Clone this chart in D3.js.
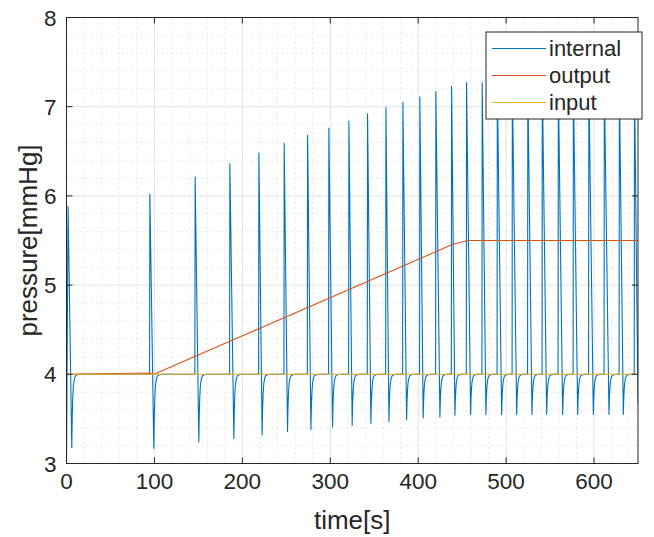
<!DOCTYPE html>
<html>
<head>
<meta charset="utf-8">
<script src="https://cdn.jsdelivr.net/npm/d3@7"></script>
<style>
  body { margin: 0; background: #fff; }
  text { font-family: "Liberation Sans", Arial, sans-serif; fill: #262626; }
</style>
</head>
<body>
<div id="chart"></div>
<script>
// pump cycles: pressure jumps up to a peak, falls to a dip, then recovers to 4
const upTimes = [1.8, 94.8, 146.3, 185.8, 218.8, 247.6, 274.2, 298.4, 321.2, 342.4, 363.3, 382.6, 401.9,
  420.1, 438, 455, 472.8, 490, 507.1, 524.7, 541.2, 559.4, 576.5, 594.1, 611.7, 628.8, 646];
const peakValues = [5.88, 6.02, 6.21, 6.36, 6.48, 6.59, 6.68, 6.76, 6.84, 6.92, 6.99, 7.05, 7.11,
  7.17, 7.23, 7.27, 7.27, 7.28, 7.28, 7.28, 7.28, 7.28, 7.28, 7.28, 7.28, 7.28, 7.28];
const dipTimes = [6.0, 99.3, 150.5, 190.3, 222.5, 251.4, 278, 302.6, 324.9, 346.2, 366.7, 386.8, 405.7,
  424.7, 441.8, 459.6, 477, 494.9, 512, 529.4, 546.1, 564.3, 581.4, 599.2, 617, 633.3, 650];
const dipValues = [3.18, 3.17, 3.24, 3.28, 3.32, 3.36, 3.38, 3.41, 3.43, 3.45, 3.47, 3.49, 3.51,
  3.52, 3.54, 3.55, 3.55, 3.55, 3.55, 3.55, 3.55, 3.55, 3.55, 3.55, 3.55, 3.55, 3.67];
// recovery after each dip: seconds after dip / part of dip still left
const recoveryOffsets = [0, 0.5, 1, 1.5, 2, 3, 4, 5.5, 7.5, 10];
const recoveryLeft = [1, 0.6, 0.37, 0.23, 0.14, 0.06, 0.025, 0.01, 0.003, 0];

const outputTimes = [0, 95, 99.5, 440, 457, 650];
const outputValues = [4.0, 4.015, 4.0, 5.46, 5.5, 5.5];
const inputTimes = [0, 650];
const inputValues = [4.0, 4.0];

const xTicks = [0, 100, 200, 300, 400, 500, 600];
const yTicks = [3, 4, 5, 6, 7, 8];
const seriesNames = ["internal", "output", "input"];
const seriesColors = ["#0072BD", "#D95319", "#EDB120"];

const W = 654, H = 537;
const margin = { top: 17.5, right: 16, bottom: 73.5, left: 66.5 };
const pw = W - margin.left - margin.right;
const ph = H - margin.top - margin.bottom;

const x = d3.scaleLinear().domain([0, 650]).range([0, pw]);
const y = d3.scaleLinear().domain([3, 8]).range([ph, 0]);

// internal pressure trace
const internal = [[0, 3.0]];
upTimes.forEach((t, i) => {
  if (i > 0) internal.push([t - 0.3, 4.0]);
  internal.push([t, peakValues[i]]);
  internal.push([dipTimes[i], dipValues[i]]);
  if (i < upTimes.length - 1) {
    recoveryOffsets.forEach((o, j) => {
      if (j === 0) return;
      internal.push([dipTimes[i] + o, 4 - (4 - dipValues[i]) * recoveryLeft[j]]);
    });
  }
});
const output = outputTimes.map((t, i) => [t, outputValues[i]]);
const input = inputTimes.map((t, i) => [t, inputValues[i]]);

const svg = d3.select("#chart").append("svg")
  .attr("width", W).attr("height", H);

const g = svg.append("g")
  .attr("transform", `translate(${margin.left},${margin.top})`);

svg.append("defs").append("clipPath").attr("id", "clip")
  .append("rect").attr("width", pw).attr("height", ph);

// minor grid
const minorX = d3.range(20, 650, 20).filter(v => v % 100 !== 0);
const minorY = d3.range(3.2, 8, 0.2).filter(v => Math.abs(v - Math.round(v)) > 0.01);
g.selectAll(".minor-x").data(minorX).join("line")
  .attr("x1", d => x(d)).attr("x2", d => x(d)).attr("y1", 0).attr("y2", ph)
  .attr("stroke", "#cfcfcf").attr("stroke-width", 1).attr("stroke-dasharray", "1,4");
g.selectAll(".minor-y").data(minorY).join("line")
  .attr("x1", 0).attr("x2", pw).attr("y1", d => y(d)).attr("y2", d => y(d))
  .attr("stroke", "#cfcfcf").attr("stroke-width", 1).attr("stroke-dasharray", "1,4");

// major grid
g.selectAll(".major-x").data(xTicks.concat([])).join("line")
  .attr("x1", d => x(d)).attr("x2", d => x(d)).attr("y1", 0).attr("y2", ph)
  .attr("stroke", "#e3e3e3").attr("stroke-width", 1);
g.selectAll(".major-y").data(yTicks).join("line")
  .attr("x1", 0).attr("x2", pw).attr("y1", d => y(d)).attr("y2", d => y(d))
  .attr("stroke", "#e3e3e3").attr("stroke-width", 1);

// data lines
const line = d3.line().x(d => x(d[0])).y(d => y(d[1]));
const plot = g.append("g").attr("clip-path", "url(#clip)");
[internal, output, input].forEach((data, i) => {
  plot.append("path")
    .datum(data)
    .attr("d", line)
    .attr("fill", "none")
    .attr("stroke", seriesColors[i])
    .attr("stroke-width", 1.1)
    .attr("stroke-linejoin", "round");
});

// axes box and ticks
const axisColor = "#262626";
g.append("rect")
  .attr("width", pw).attr("height", ph)
  .attr("fill", "none").attr("stroke", axisColor).attr("stroke-width", 1);

const tickLen = 6;
xTicks.forEach(v => {
  g.append("line").attr("x1", x(v)).attr("x2", x(v)).attr("y1", ph).attr("y2", ph - tickLen)
    .attr("stroke", axisColor);
  g.append("line").attr("x1", x(v)).attr("x2", x(v)).attr("y1", 0).attr("y2", tickLen)
    .attr("stroke", axisColor);
  g.append("text")
    .attr("x", x(v)).attr("y", ph + 25)
    .attr("text-anchor", "middle")
    .style("font-size", "22.5px")
    .text(v);
});
yTicks.forEach(v => {
  g.append("line").attr("x1", 0).attr("x2", tickLen).attr("y1", y(v)).attr("y2", y(v))
    .attr("stroke", axisColor);
  g.append("line").attr("x1", pw).attr("x2", pw - tickLen).attr("y1", y(v)).attr("y2", y(v))
    .attr("stroke", axisColor);
  g.append("text")
    .attr("x", -10).attr("y", y(v))
    .attr("dy", "0.36em")
    .attr("text-anchor", "end")
    .style("font-size", "22.5px")
    .text(v);
});

// axis labels
g.append("text")
  .attr("x", pw / 2).attr("y", ph + 65)
  .attr("text-anchor", "middle")
  .style("font-size", "26px")
  .text("time[s]");
g.append("text")
  .attr("transform", `translate(${-30},${ph / 2}) rotate(-90)`)
  .attr("text-anchor", "middle")
  .style("font-size", "26px")
  .text("pressure[mmHg]");

// legend
const lg = svg.append("g").attr("transform", "translate(486,32)");
lg.append("rect")
  .attr("width", 156).attr("height", 87)
  .attr("fill", "#fff").attr("stroke", axisColor).attr("stroke-width", 1);
seriesNames.forEach((name, i) => {
  const ly = 16.5 + i * 27;
  lg.append("line")
    .attr("x1", 6).attr("x2", 60).attr("y1", ly).attr("y2", ly)
    .attr("stroke", seriesColors[i]).attr("stroke-width", 1);
  lg.append("text")
    .attr("x", 63).attr("y", ly)
    .attr("dy", "0.36em")
    .style("font-size", "22px")
    .text(name);
});
</script>
</body>
</html>
